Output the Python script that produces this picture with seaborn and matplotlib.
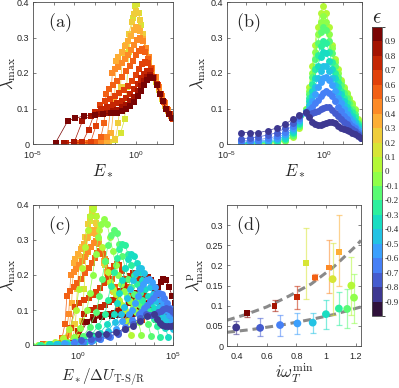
import numpy as np
import pandas as pd
import matplotlib
matplotlib.use("Agg")
import matplotlib.pyplot as plt
import matplotlib.colors as mcolors
import matplotlib.cm as mcm
from matplotlib.ticker import FixedLocator, FuncFormatter, NullLocator
import seaborn as sns

sns.set_style("ticks")
plt.rcParams["font.family"] = ["Liberation Sans", "DejaVu Sans"]
plt.rcParams["mathtext.fontset"] = "cm"
plt.rcParams["axes.unicode_minus"] = False

# ---------------- data ----------------
# (a) squares, eps > 0 ; log10(E*) and lambda_max
a_eps = [0.15, 0.25, 0.35, 0.45, 0.55, 0.65, 0.75, 0.85, 0.95]
a_logE = [
    [-1.3, -1.0, -0.75, -0.55, -0.45, -0.35, -0.25, -0.15, -0.05, 0.0, 0.05, 0.15, 0.25, 0.35, 0.5, 0.65, 0.8, 0.95, 1.1, 1.25, 1.4, 1.55, 1.7, 1.8],
    [-1.7, -1.3, -1.0, -0.85, -0.75, -0.65, -0.5, -0.35, -0.2, -0.1, 0.0, 0.1, 0.2, 0.35, 0.5, 0.65, 0.8, 0.95, 1.1, 1.25, 1.4, 1.55, 1.7, 1.8],
    [-2.1, -1.7, -1.4, -1.2, -1.05, -0.95, -0.85, -0.7, -0.55, -0.4, -0.25, -0.1, 0.0, 0.1, 0.2, 0.35, 0.5, 0.65, 0.8, 0.95, 1.1, 1.25, 1.4, 1.55, 1.7, 1.8],
    [-2.4, -2.0, -1.7, -1.4, -1.25, -1.15, -1.0, -0.85, -0.7, -0.55, -0.4, -0.25, -0.1, 0.05, 0.2, 0.35, 0.5, 0.65, 0.8, 0.95, 1.1, 1.25, 1.4, 1.55, 1.7, 1.8],
    [-2.7, -2.3, -2.0, -1.7, -1.55, -1.45, -1.3, -1.1, -0.9, -0.7, -0.5, -0.3, -0.15, 0.0, 0.15, 0.3, 0.45, 0.6, 0.75, 0.9, 1.05, 1.2, 1.35, 1.5, 1.65, 1.8],
    [-3.0, -2.6, -2.2, -1.95, -1.75, -1.5, -1.25, -1.0, -0.8, -0.6, -0.4, -0.2, 0.0, 0.15, 0.3, 0.45, 0.6, 0.75, 0.9, 1.05, 1.2, 1.35, 1.5, 1.65, 1.8],
    [-3.4, -3.0, -2.6, -2.3, -2.0, -1.7, -1.4, -1.1, -0.9, -0.7, -0.5, -0.3, -0.1, 0.1, 0.25, 0.4, 0.55, 0.7, 0.85, 1.0, 1.15, 1.3, 1.45, 1.6, 1.75],
    [-3.5, -3.0, -2.6, -2.2, -1.8, -1.4, -1.1, -0.9, -0.7, -0.5, -0.3, -0.1, 0.1, 0.25, 0.4, 0.55, 0.7, 0.85, 1.0, 1.15, 1.3, 1.45, 1.6, 1.75],
    [-3.9, -3.3, -2.95, -2.5, -2.0, -1.6, -1.2, -0.9, -0.7, -0.5, -0.3, -0.1, 0.1, 0.25, 0.4, 0.55, 0.7, 0.85, 1.0, 1.15, 1.3, 1.45, 1.6, 1.75],
]
a_lam = [
    [0.006, 0.012, 0.03, 0.07, 0.16, 0.26, 0.31, 0.355, 0.39, 0.40, 0.395, 0.37, 0.335, 0.30, 0.26, 0.228, 0.20, 0.176, 0.152, 0.128, 0.108, 0.092, 0.079, 0.07],
    [0.004, 0.007, 0.015, 0.06, 0.16, 0.255, 0.28, 0.31, 0.345, 0.365, 0.375, 0.37, 0.35, 0.31, 0.27, 0.235, 0.205, 0.18, 0.155, 0.13, 0.11, 0.093, 0.08, 0.071],
    [0.003, 0.005, 0.008, 0.03, 0.12, 0.235, 0.245, 0.26, 0.275, 0.29, 0.305, 0.32, 0.33, 0.328, 0.318, 0.295, 0.265, 0.24, 0.21, 0.185, 0.158, 0.133, 0.113, 0.095, 0.08, 0.071],
    [0.003, 0.004, 0.006, 0.02, 0.09, 0.20, 0.21, 0.218, 0.228, 0.24, 0.252, 0.265, 0.28, 0.292, 0.298, 0.29, 0.27, 0.245, 0.215, 0.19, 0.16, 0.135, 0.115, 0.095, 0.08, 0.071],
    [0.003, 0.004, 0.006, 0.02, 0.06, 0.14, 0.155, 0.165, 0.177, 0.19, 0.205, 0.22, 0.235, 0.25, 0.262, 0.268, 0.26, 0.24, 0.215, 0.19, 0.165, 0.14, 0.118, 0.10, 0.085, 0.071],
    [0.003, 0.004, 0.005, 0.05, 0.11, 0.12, 0.128, 0.135, 0.143, 0.152, 0.163, 0.177, 0.195, 0.21, 0.225, 0.232, 0.228, 0.212, 0.19, 0.165, 0.14, 0.118, 0.10, 0.085, 0.071],
    [0.003, 0.004, 0.005, 0.04, 0.09, 0.10, 0.105, 0.11, 0.115, 0.122, 0.13, 0.14, 0.155, 0.17, 0.185, 0.198, 0.206, 0.205, 0.19, 0.168, 0.142, 0.12, 0.10, 0.085, 0.072],
    [0.004, 0.005, 0.065, 0.08, 0.085, 0.088, 0.092, 0.097, 0.103, 0.11, 0.12, 0.133, 0.15, 0.163, 0.177, 0.19, 0.195, 0.187, 0.167, 0.142, 0.12, 0.10, 0.085, 0.072],
    [0.004, 0.066, 0.072, 0.08, 0.083, 0.085, 0.086, 0.088, 0.092, 0.098, 0.106, 0.118, 0.135, 0.15, 0.165, 0.18, 0.19, 0.185, 0.165, 0.14, 0.12, 0.10, 0.085, 0.073],
]

# (b) circles, eps <= 0.1 ; low-energy part and peak part
b_eps = [0.05, -0.05, -0.15, -0.25, -0.35, -0.45, -0.55, -0.65, -0.75, -0.85]
b_low_logE = [-4.3, -3.8, -3.4, -2.9, -2.4, -2.0, -1.6, -1.25]
b_peak_logE = [-0.9, -0.75, -0.6, -0.45, -0.3, -0.15, 0.0, 0.15, 0.3, 0.45,
               0.6, 0.75, 0.9, 1.05, 1.2, 1.35, 1.5, 1.65, 1.8, 1.95]
b_low_lam = [
    [0.0, 0.0, 0.0, 0.001, 0.003, 0.008, 0.02, 0.045],
    [0.0, 0.0, 0.0, 0.002, 0.004, 0.01, 0.022, 0.05],
    [0.0, 0.001, 0.001, 0.003, 0.006, 0.012, 0.025, 0.052],
    [0.001, 0.002, 0.003, 0.005, 0.008, 0.015, 0.03, 0.055],
    [0.002, 0.003, 0.004, 0.006, 0.01, 0.018, 0.035, 0.06],
    [0.003, 0.004, 0.006, 0.008, 0.013, 0.022, 0.04, 0.065],
    [0.005, 0.006, 0.008, 0.011, 0.017, 0.028, 0.045, 0.068],
    [0.008, 0.01, 0.012, 0.016, 0.022, 0.035, 0.052, 0.072],
    [0.015, 0.017, 0.02, 0.025, 0.032, 0.045, 0.06, 0.078],
    [0.032, 0.032, 0.031, 0.038, 0.045, 0.055, 0.07, 0.082],
]
b_peak_lam = [
    [0.10, 0.16, 0.22, 0.28, 0.33, 0.37, 0.39, 0.37, 0.33, 0.28, 0.24, 0.21, 0.18, 0.16, 0.145, 0.13, 0.115, 0.10, 0.07, 0.03],
    [0.10, 0.15, 0.20, 0.26, 0.31, 0.345, 0.36, 0.345, 0.31, 0.27, 0.23, 0.20, 0.175, 0.155, 0.14, 0.125, 0.11, 0.095, 0.065, 0.028],
    [0.095, 0.14, 0.19, 0.24, 0.285, 0.315, 0.33, 0.32, 0.29, 0.255, 0.22, 0.19, 0.165, 0.145, 0.13, 0.115, 0.10, 0.085, 0.06, 0.026],
    [0.09, 0.13, 0.17, 0.21, 0.25, 0.275, 0.29, 0.285, 0.26, 0.23, 0.20, 0.175, 0.15, 0.13, 0.115, 0.10, 0.09, 0.075, 0.055, 0.024],
    [0.09, 0.12, 0.15, 0.185, 0.22, 0.245, 0.26, 0.255, 0.235, 0.21, 0.185, 0.16, 0.14, 0.12, 0.105, 0.09, 0.08, 0.065, 0.05, 0.022],
    [0.09, 0.11, 0.135, 0.16, 0.185, 0.205, 0.22, 0.22, 0.205, 0.185, 0.165, 0.145, 0.125, 0.11, 0.095, 0.08, 0.07, 0.058, 0.045, 0.02],
    [0.09, 0.10, 0.12, 0.14, 0.16, 0.175, 0.185, 0.19, 0.18, 0.165, 0.15, 0.13, 0.115, 0.10, 0.085, 0.072, 0.062, 0.052, 0.04, 0.019],
    [0.09, 0.095, 0.105, 0.115, 0.125, 0.135, 0.145, 0.15, 0.145, 0.135, 0.12, 0.105, 0.092, 0.08, 0.07, 0.06, 0.052, 0.045, 0.035, 0.018],
    [0.088, 0.085, 0.087, 0.09, 0.094, 0.098, 0.102, 0.105, 0.103, 0.097, 0.088, 0.08, 0.07, 0.062, 0.055, 0.048, 0.042, 0.036, 0.028, 0.016],
    [0.09, 0.075, 0.062, 0.056, 0.054, 0.054, 0.055, 0.058, 0.062, 0.063, 0.058, 0.05, 0.046, 0.042, 0.039, 0.036, 0.032, 0.028, 0.023, 0.018],
]

# (c) log10 of the barrier dU_T-S/R for every curve of (a) and (b)
c_log_dU_a = [-0.8, -0.75, -0.75, -0.8, -0.9, -1.6, -2.35, -3.0, -3.8]
c_log_dU_b = [-0.83, -1.4, -1.9, -2.35, -2.8, -3.2, -3.6, -4.1, -4.5, -4.9]

# (d) peak values with error bars
d_sq_x = [0.467, 0.653, 0.802, 0.863, 0.925, 1.022, 1.089]
d_sq_y = [0.081, 0.100, 0.121, 0.205, 0.170, 0.195, 0.234]
d_sq_lo = [0.073, 0.087, 0.093, 0.116, 0.163, 0.131, 0.149]
d_sq_hi = [0.088, 0.113, 0.149, 0.294, 0.178, 0.263, 0.326]
d_sq_eps = [0.95, 0.85, 0.75, 0.15, 0.55, 0.45, 0.35]
d_ci_x = [0.395, 0.556, 0.690, 0.807, 0.910, 0.999, 1.044, 1.086, 1.142, 1.170, 1.188]
d_ci_y = [0.046, 0.045, 0.052, 0.056, 0.058, 0.079, 0.166, 0.093, 0.092, 0.150, 0.120]
d_ci_lo = [0.030, 0.025, 0.026, 0.029, 0.033, 0.041, 0.077, 0.052, 0.044, 0.077, 0.058]
d_ci_hi = [0.062, 0.069, 0.077, 0.083, 0.083, 0.114, 0.255, 0.135, 0.141, 0.221, 0.178]
d_ci_eps = [-0.85, -0.75, -0.65, -0.55, -0.45, -0.35, 0.15, -0.25, -0.15, 0.05, -0.05]
# dashed fit curves
d_fit1_x = [0.333, 0.45, 0.6, 0.75, 0.9, 1.05, 1.2, 1.235]
d_fit1_y = [0.064, 0.077, 0.097, 0.124, 0.154, 0.196, 0.248, 0.262]
d_fit2_x = [0.333, 0.5, 0.7, 0.9, 1.05, 1.235]
d_fit2_y = [0.034, 0.041, 0.052, 0.066, 0.078, 0.097]

# ---------------- colours ----------------
levels = np.round(np.linspace(-1, 1, 21), 2)
cmap = mcolors.ListedColormap(plt.get_cmap("turbo")(np.linspace(0, 1, 20)))
norm = mcolors.BoundaryNorm(levels, cmap.N)


def col(e):
    return cmap(norm(e))


def frame(eps, xs, ys, shifts=None):
    rows = []
    for i, e in enumerate(eps):
        dU = 1.0 if shifts is None else 10.0 ** shifts[i]
        for x, y in zip(xs[i], ys[i]):
            rows.append((i, e, 10.0 ** x / dU, y))
    return pd.DataFrame(rows, columns=["curve", "eps", "x", "lam"])


b_logE = [b_low_logE + b_peak_logE for _ in b_eps]
b_lam = [lo + pk for lo, pk in zip(b_low_lam, b_peak_lam)]

df_a = frame(a_eps, a_logE, a_lam)
df_b = frame(b_eps, b_logE, b_lam)
df_ca = frame(a_eps, a_logE, a_lam, c_log_dU_a)
df_cb = frame(b_eps, b_logE, b_lam, c_log_dU_b)

pal_a = {i: col(e) for i, e in enumerate(a_eps)}
pal_b = {i: col(e) for i, e in enumerate(b_eps)}

line_kw = dict(estimator=None, sort=False, legend=False, linewidth=0.5)
sq_kw = dict(marker="s", markersize=3.8, markeredgewidth=0)
ci_kw = dict(marker="o", markersize=5.0, markeredgewidth=0)

# ---------------- figure ----------------
W, H = 399, 388
fig = plt.figure(figsize=(W / 100, H / 100), dpi=100)
ax_a = fig.add_axes([33 / W, 1 - 144 / H, 140 / W, 142 / H])
ax_b = fig.add_axes([227 / W, 1 - 144 / H, 135 / W, 142 / H])
ax_c = fig.add_axes([33 / W, 1 - 345 / H, 140 / W, 140 / H])
ax_d = fig.add_axes([227 / W, 1 - 346 / H, 134 / W, 141 / H])
cax = fig.add_axes([372 / W, 1 - 316 / H, 10 / W, 289 / H])

sns.lineplot(data=df_a, x="x", y="lam", hue="curve", palette=pal_a, ax=ax_a, **line_kw, **sq_kw)
sns.lineplot(data=df_b, x="x", y="lam", hue="curve", palette=pal_b, ax=ax_b, **line_kw, **ci_kw)
sns.lineplot(data=df_ca, x="x", y="lam", hue="curve", palette=pal_a, ax=ax_c, **line_kw, **sq_kw)
sns.lineplot(data=df_cb, x="x", y="lam", hue="curve", palette=pal_b, ax=ax_c, **line_kw, **ci_kw)

frame_col = "#4d4d4d"
txt_col = "#262626"


def decade_fmt(show):
    def f(v, pos):
        n = int(round(np.log10(v)))
        return r"$\mathdefault{10^{%d}}$" % n if n in show else ""
    return FuncFormatter(f)


def style(ax):
    ax.tick_params(which="both", direction="in", top=True, right=True,
                   length=2.2, width=0.5, labelsize=6.5, colors=frame_col,
                   labelcolor=txt_col, pad=2.5)
    ax.tick_params(axis="x", pad=4)
    for s in ax.spines.values():
        s.set_color(frame_col)
        s.set_linewidth(0.6)


for ax, xmax in [(ax_a, 1.8), (ax_b, 2.0)]:
    ax.set_xscale("log")
    ax.set_xlim(1e-5, 10 ** xmax)
    ax.xaxis.set_major_locator(FixedLocator([10.0 ** k for k in range(-5, 3)]))
    ax.xaxis.set_major_formatter(decade_fmt([-5, 0]))
    ax.xaxis.set_minor_locator(NullLocator())

ax_c.set_xscale("log")
ax_c.set_xlim(10 ** -2.32, 1e5)
ax_c.xaxis.set_major_locator(FixedLocator([10.0 ** k for k in range(-2, 6)]))
ax_c.xaxis.set_major_formatter(decade_fmt([0, 5]))
ax_c.xaxis.set_minor_locator(NullLocator())

gfmt = FuncFormatter(lambda v, p: "%g" % (round(v, 3) + 0.0))
for ax in (ax_a, ax_b, ax_c):
    ax.set_ylim(0, 0.4)
    ax.set_yticks([0, 0.1, 0.2, 0.3, 0.4])
    ax.yaxis.set_major_formatter(gfmt)
    ax.set_ylabel(r"$\lambda_{\max}$", fontsize=12, color=txt_col)
    style(ax)

# (d)
sns.lineplot(x=d_fit1_x, y=d_fit1_y, ax=ax_d, color="#8a8a8a", linewidth=2.2,
             linestyle=(0, (2.6, 1.6)), zorder=1)
sns.lineplot(x=d_fit2_x, y=d_fit2_y, ax=ax_d, color="#8a8a8a", linewidth=2.2,
             linestyle=(0, (2.6, 1.6)), zorder=1)
for xs, ys, lo, hi, eps, mk, ms in [
        (d_sq_x, d_sq_y, d_sq_lo, d_sq_hi, d_sq_eps, "s", 4.2),
        (d_ci_x, d_ci_y, d_ci_lo, d_ci_hi, d_ci_eps, "o", 5.6)]:
    for x, y, l, h, e in zip(xs, ys, lo, hi, eps):
        c = col(e)
        ax_d.errorbar([x], [y], yerr=[[y - l], [h - y]], fmt="none",
                      ecolor=c, alpha=0.55, elinewidth=0.9, capsize=2.4,
                      capthick=0.9, zorder=2)
    sns.scatterplot(x=xs, y=ys, hue=list(range(len(xs))),
                    palette={i: col(e) for i, e in enumerate(eps)},
                    marker=mk, s=ms ** 2, linewidth=0, ax=ax_d, legend=False,
                    zorder=3)
ax_d.set_xlim(0.333, 1.235)
ax_d.set_ylim(0, 0.35)
ax_d.set_xticks([0.4, 0.6, 0.8, 1.0, 1.2])
ax_d.set_yticks([0, 0.05, 0.1, 0.15, 0.2, 0.25, 0.3])
ax_d.xaxis.set_major_formatter(gfmt)
ax_d.yaxis.set_major_formatter(gfmt)
ax_d.set_ylabel(r"$\lambda^{\rm p}_{\max}$", fontsize=12, color=txt_col)
style(ax_d)

ax_a.set_xlabel(r"$E_*$", fontsize=12, color=txt_col)
ax_b.set_xlabel(r"$E_*$", fontsize=12, color=txt_col)
ax_c.set_xlabel("$E_*/\\Delta U_{\\rm T\u2010S/R}$", fontsize=11, color=txt_col)
ax_d.set_xlabel(r"$i\omega_T^{\min}$", fontsize=12, color=txt_col)

ax_a.xaxis.set_label_coords(0.5, -0.13)
ax_b.xaxis.set_label_coords(0.5, -0.13)
ax_c.xaxis.set_label_coords(0.5, -0.15)
ax_d.xaxis.set_label_coords(0.5, -0.11)
ax_a.yaxis.set_label_coords(-0.105, 0.5)
ax_b.yaxis.set_label_coords(-0.14, 0.5)
ax_c.yaxis.set_label_coords(-0.105, 0.5)
ax_d.yaxis.set_label_coords(-0.16, 0.5)

for ax, lab, px in [(ax_a, "a", 0.19), (ax_b, "b", 0.155), (ax_c, "c", 0.19), (ax_d, "d", 0.155)]:
    ax.text(px, 0.855, r"$\mathrm{(%s)}$" % lab, transform=ax.transAxes,
            ha="center", va="center", fontsize=13, color=txt_col)

# colourbar
sm = mcm.ScalarMappable(norm=norm, cmap=cmap)
cb = fig.colorbar(sm, cax=cax, ticks=np.round(np.arange(-0.9, 0.95, 0.1), 1))
cb.ax.yaxis.set_major_formatter(gfmt)
cb.ax.tick_params(direction="in", length=2, width=0.5, labelsize=6.5,
                  colors=frame_col, labelcolor=txt_col, pad=2)
for t in cb.ax.get_yticklabels():
    t.set_family("Liberation Serif")
cb.outline.set_edgecolor(frame_col)
cb.outline.set_linewidth(0.6)
fig.text(377 / W, 1 - 18 / H, r"$\epsilon$", ha="center", va="center",
         fontsize=15, color=txt_col)

fig.savefig("out.png", dpi=100)
